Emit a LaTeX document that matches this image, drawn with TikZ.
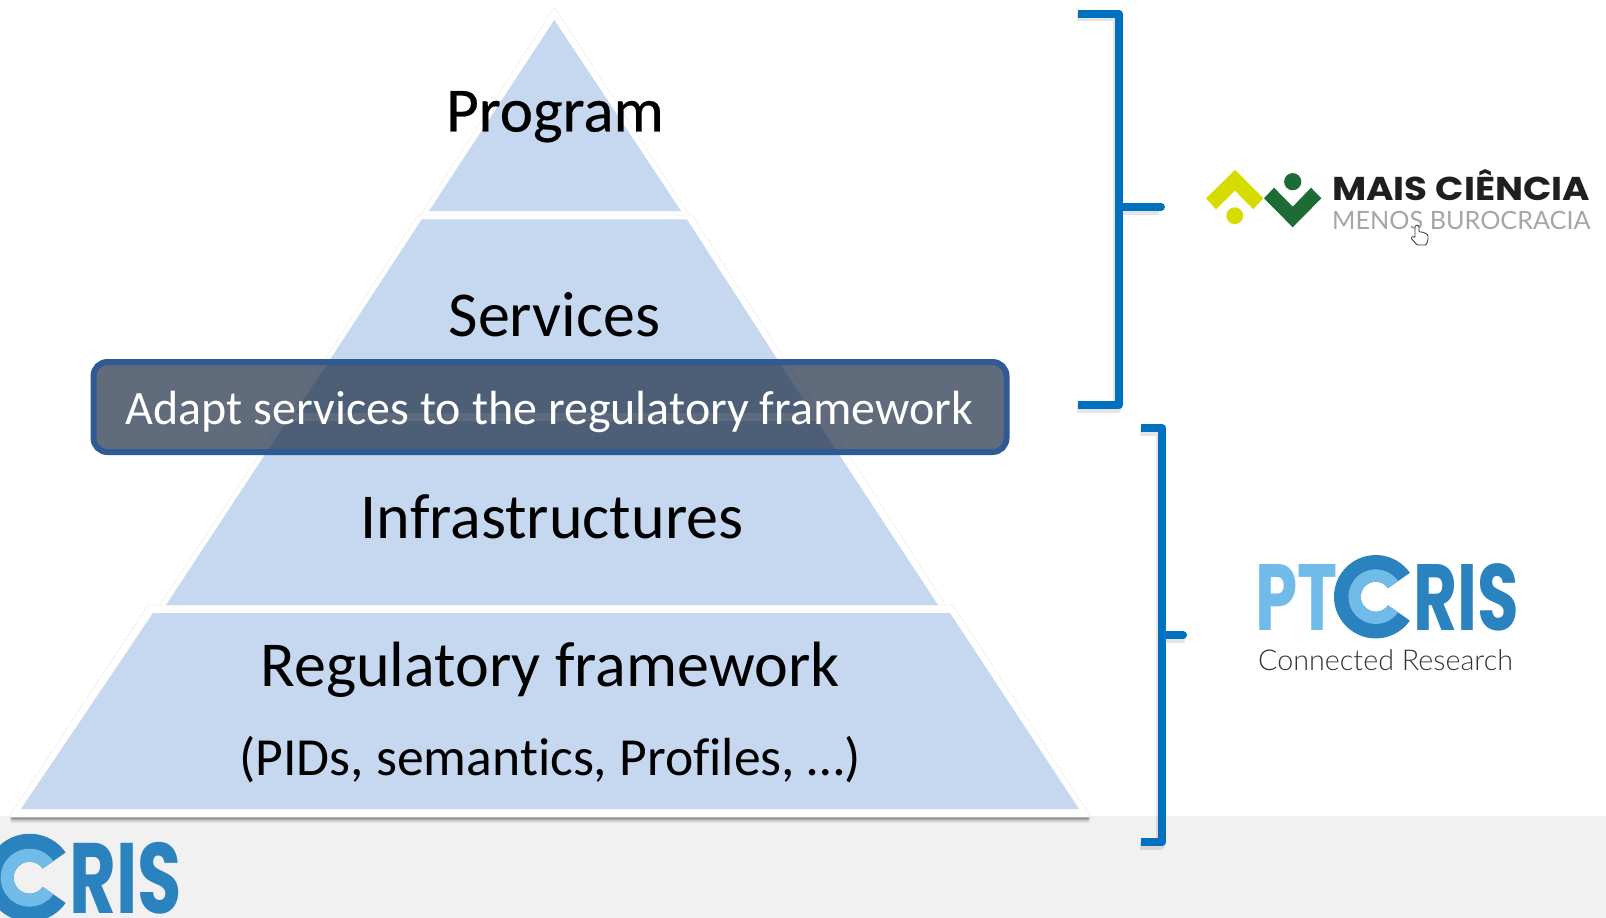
\documentclass[tikz,border=0pt]{standalone}
\usepackage{fontspec}
\setmainfont{Carlito}[Ligatures=NoCommon]
\newfontfamily\progfont{Carlito}[Ligatures=NoCommon,FakeBold=0.35]
\newfontfamily\popfont{Poppins}
\newfontfamily\latofont{Lato}
\newfontfamily\latolight{Lato Light}
\definecolor{layerblue}{HTML}{C6D8F0}
\definecolor{bandgray}{HTML}{F1F1F1}
\definecolor{brblue}{HTML}{0070C0}
\definecolor{boxfill}{HTML}{14253E}
\definecolor{boxline}{HTML}{2F5A94}
\definecolor{ptlight}{HTML}{71BBE9}
\definecolor{ptdark}{HTML}{2A82BF}
\definecolor{mcyellow}{HTML}{D6DC00}
\definecolor{mcgreen}{HTML}{1E6B36}
\tikzset{
  outer/.style={fill=white,draw=black!5,line width=0.8pt,rounded corners=2pt},
  layer/.style={fill=layerblue,draw=none},
  bigtext/.style={anchor=base,inner sep=0pt,text=black,font=\fontsize{64}{72}\selectfont},
  brk/.style={draw=brblue,line width=8pt,line cap=butt,line join=round},
  brktick/.style={draw=brblue,line width=8pt,line cap=round},
  brkshadow/.style={draw=black,opacity=0.1,line width=9pt,line join=round},
  adaptbox/.style={draw=boxline,line width=6pt,fill=boxfill,fill opacity=0.68,draw opacity=1,rounded corners=14pt,minimum width=913pt,minimum height=90pt,inner sep=0pt},
  logotext/.style={anchor=base west,inner sep=0pt,transform shape},
}
\newcommand{\ringlogo}[5]{% x,y,outer,mid,inner
  \begin{scope}[shift={(#1,#2)}]
    \fill[ptdark] (35:#3) arc[start angle=35,end angle=325,radius=#3] -- (325:#5) arc[start angle=325,end angle=35,radius=#5] -- cycle;
    \fill[ptlight] (35:#4) arc[start angle=35,end angle=325,radius=#4] -- (325:#5) arc[start angle=325,end angle=35,radius=#5] -- cycle;
  \end{scope}
}
\begin{document}
\begin{tikzpicture}[x=1pt,y=-1pt]
\useasboundingbox (0,0) rectangle (1606,917.5);
\begin{scope}
\clip (0,0) rectangle (1606,917.5);
% grey band
\fill[bandgray] (0,816) rectangle (1606,919);
% pyramid shadow
\foreach \d/\o in {1.5/0.22,3/0.16,4.5/0.10,6/0.05}{
  \fill[black,opacity=\o,rounded corners=3pt] (147,605+\d) -- (953,605+\d) -- (1091,817+\d) -- (9,817+\d) -- cycle;
}
% outer white shapes
\path[outer] (554.5,7) -- (690,216) -- (420,216) -- cycle;
\path[outer] (418,215) -- (692,215) -- (822,417) -- (288,417) -- cycle;
\path[outer] (284,417) -- (825,417) -- (948,609) -- (157,609) -- cycle;
\path[outer] (148,605) -- (953,605) -- (1091,817) -- (9,817) -- cycle;
% blue layers
\fill[layer] (554.3,20) -- (681,211) -- (429,211) -- cycle;
\fill[layer] (421.7,219.4) -- (687,219.4) -- (812,413) -- (295,413) -- cycle;
\fill[layer] (287,421) -- (817,421) -- (938,605) -- (166,605) -- cycle;
\fill[layer] (153,613) -- (950,613) -- (1079,809) -- (21,809) -- cycle;
% layer texts
\node[bigtext,font=\progfont\fontsize{63}{72}\selectfont] (program) at (555,131.5) {Program};
\node[bigtext] (services) at (554.5,336.5) {Services};
\node[bigtext] (infra) at (552,538.5) {Infrastructures};
\node[bigtext] (reg) at (550,686.5) {Regulatory framework};
\node[bigtext,font=\fontsize{53.6}{60}\selectfont] (pids) at (550,775) {(PIDs, semantics, Profiles, …)};
% translucent box
\node[adaptbox] (box) at (550,407) {};
\node[bigtext,text=white,font=\fontsize{48}{54}\selectfont] (adapt) at (549.5,424) {Adapt services to the regulatory framework};
% bracket shadows
\draw[brkshadow] (1077,17) -- (1117,17) -- (1117,408) -- (1077,408);
\draw[brkshadow] (1159,210) -- (1117,210);
\draw[brkshadow] (1140,431) -- (1160,431) -- (1160,845) -- (1140,845);
\draw[brkshadow] (1185,638) -- (1160,638);
% brackets
\draw[brktick] (1119,207) -- (1161,207);
\draw[brk] (1078,14) -- (1119,14) -- (1119,405) -- (1078,405);
\draw[brktick] (1162,635) -- (1183,635);
\draw[brk] (1141,428) -- (1162,428) -- (1162,842) -- (1141,842);
% Mais Ciencia logo
\fill[mcyellow] (1235,170) -- (1263.3,198.3) -- (1253.3,209.3) -- (1235,190.7) -- (1216,209.3) -- (1206,198.3) -- cycle;
\fill[mcyellow] (1234.7,215.7) circle (8.4);
\fill[mcgreen] (1264,198.3) -- (1274,187.7) -- (1292.7,206.7) -- (1311,187.7) -- (1321.3,198.3) -- (1292.7,227.3) -- cycle;
\fill[mcgreen] (1292.7,181.7) circle (8.6);
\node[logotext,xscale=1.13,text=black!88,font=\popfont\bfseries\fontsize{33}{36}\selectfont] (mais) at (1332,200) {MAIS CIÊNCIA};
\node[logotext,text=black!35,font=\latofont\fontsize{25.2}{30}\selectfont] (menos) at (1332,229) {MENOS BUROCRACIA};
% cursor
\draw[draw=black!75,fill=white,line width=0.9pt,line join=round,rounded corners=1pt]
  (1415,226) -- (1417,225) -- (1419,226) -- (1419,232) -- (1422,232) -- (1425,233) -- (1428,235) -- (1428,240) -- (1426,245) -- (1417,245) -- (1411,238) -- (1413,236) -- (1415,238) -- cycle;
% PTCRIS logo
\node[logotext,xscale=0.72,text=ptlight,font=\popfont\bfseries\fontsize{94}{100}\selectfont] (pt) at (1255,630) {PT};
\ringlogo{1375.7}{596.7}{41.7}{27.3}{15}
\node[logotext,xscale=0.72,text=ptdark,font=\popfont\bfseries\fontsize{94}{100}\selectfont] (ris) at (1413,630) {RIS};
\node[logotext,text=black!80,font=\latolight\fontsize{28.7}{32}\selectfont] (conn) at (1258,670.5) {Connected Research};
% CRIS logo bottom left
\ringlogo{29.6}{877.7}{44}{29}{16}
\node[logotext,xscale=0.72,text=ptdark,font=\popfont\bfseries\fontsize{100}{106}\selectfont] (ris2) at (69,913) {RIS};
\end{scope}
\end{tikzpicture}
\end{document}
